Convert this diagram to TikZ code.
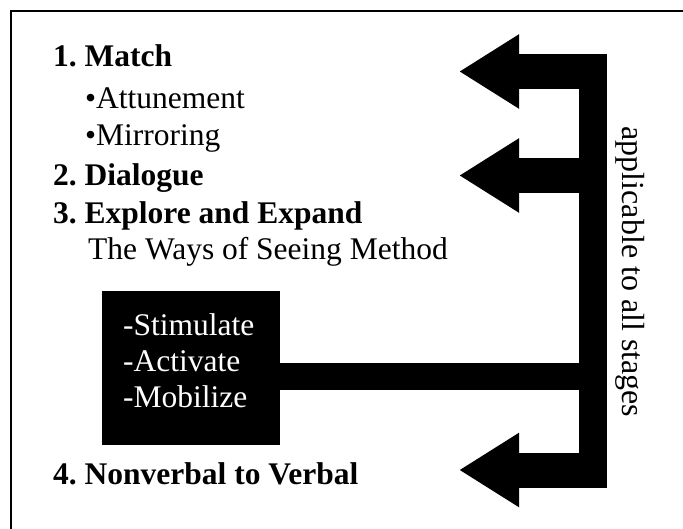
\documentclass[tikz,border=0pt]{standalone}
\usepackage{fontspec}
\setmainfont{Liberation Serif}
\usetikzlibrary{arrows.meta}
\frenchspacing

\begin{document}
\begin{tikzpicture}[x=1pt, y=-1pt,
    stage/.style={anchor=base west, inner sep=0pt,
                  font=\fontsize{31.5}{36}\selectfont\bfseries},
    note/.style={anchor=base west, inner sep=0pt,
                 font=\fontsize{31.5}{36}\selectfont},
    actbox/.style={fill=black, minimum width=178pt, minimum height=154pt, inner sep=0pt},
    actlist/.style={anchor=north west, inner sep=0pt, text=white, align=left,
                    font=\fontsize{31.5}{36}\selectfont},
    bigarrow/.style={line width=35pt, -{Triangle[length=60pt, width=70pt]}},
    spine/.style={line width=28pt},
    link/.style={line width=27pt},
  ]
  \useasboundingbox (0,0) rectangle (683,529);
  \draw[line width=2.5pt] (11,529) -- (11,11) -- (683,11);

  % stages on the left
  \node[stage] (match)    at (53,67)  {1. Match};
  \node[note]  (attune)   at (85,109) {\textbullet Attunement};
  \node[note]  (mirror)   at (85,146) {\textbullet Mirroring};
  \node[stage] (dialogue) at (53,186) {2. Dialogue};
  \node[stage] (explore)  at (53,224) {3. Explore and Expand};
  \node[note]  (ways)     at (88,260) {The Ways of Seeing Method};
  \node[stage] (verbal)   at (53,484) {4. Nonverbal to Verbal};

  \node[actbox] (act) at (191,368) {};
  \node[actlist] (actions) at (123,313.5) {-Stimulate\\-Activate\\-Mobilize};

  % the spine and its arrows
  \coordinate (top) at (593,54);
  \coordinate (bot) at (593,487);
  \coordinate (join) at (593,376.5);
  \coordinate (s1) at (607,71.5);  \coordinate (t1) at (459,71.5);
  \coordinate (s2) at (607,175.5); \coordinate (t2) at (459,175.5);
  \coordinate (s3) at (607,470);   \coordinate (t3) at (459,470);
  \draw[spine] (top) -- (bot);
  \draw[bigarrow] (s1) -- (t1);
  \draw[bigarrow] (s2) -- (t2);
  \draw[bigarrow] (s3) -- (t3);
  \draw[link] (act.east |- join) -- (join);

  \node[note, anchor=center, rotate=-90, font=\fontsize{32}{36}\selectfont]
    (all) at (630,272) {applicable to all stages};
\end{tikzpicture}
\end{document}
